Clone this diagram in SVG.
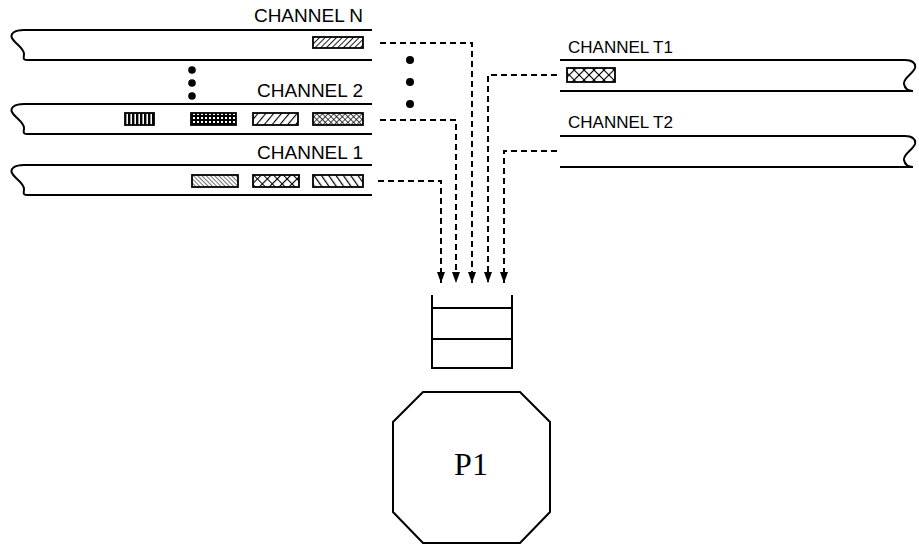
<svg xmlns="http://www.w3.org/2000/svg" width="919" height="545" viewBox="0 0 919 545">
<style>
.band{fill:none;stroke:#000;stroke-width:2}
.lbl{font-family:"Liberation Sans",Arial,sans-serif;font-size:19px;fill:#000}
.lblt{font-family:"Liberation Sans",Arial,sans-serif;font-size:17px;fill:#000}
.dash{fill:none;stroke:#000;stroke-width:2;stroke-dasharray:6 4}
.box{stroke:#000;stroke-width:1.8}
.dot{fill:#000}
.edge{fill:none;stroke:#000;stroke-width:2}
</style>
<defs>
<marker id="ah" markerWidth="11" markerHeight="8" refX="11" refY="4" orient="auto" markerUnits="userSpaceOnUse" viewBox="0 0 11 8">
<path d="M0,0 L11,4 L0,8 Z" fill="#000"/>
</marker>
<pattern id="pDiag" width="4" height="4" patternUnits="userSpaceOnUse" patternTransform="rotate(45)"><rect width="4" height="4" fill="#fff"/><line x1="0" y1="0" x2="0" y2="4" stroke="#000" stroke-width="1.8"/></pattern>
<pattern id="pDiagW" width="6" height="6" patternUnits="userSpaceOnUse" patternTransform="rotate(40)"><rect width="6" height="6" fill="#fff"/><line x1="0" y1="0" x2="0" y2="6" stroke="#000" stroke-width="2.2"/></pattern>
<pattern id="pBack" width="3" height="3" patternUnits="userSpaceOnUse" patternTransform="rotate(-45)"><rect width="3" height="3" fill="#fff"/><line x1="0" y1="0" x2="0" y2="3" stroke="#000" stroke-width="1.1"/></pattern>
<pattern id="pBackW" width="6" height="6" patternUnits="userSpaceOnUse" patternTransform="rotate(-35)"><rect width="6" height="6" fill="#fff"/><line x1="0" y1="0" x2="0" y2="6" stroke="#000" stroke-width="2.4"/></pattern>
<pattern id="pVert" width="4" height="4" patternUnits="userSpaceOnUse"><rect width="4" height="4" fill="#fff"/><rect x="0" y="0" width="2.4" height="4" fill="#000"/></pattern>
<pattern id="pGrid" width="4" height="4" patternUnits="userSpaceOnUse"><rect width="4" height="4" fill="#000"/><rect x="1" y="1" width="2" height="2" fill="#fff"/></pattern>
<pattern id="pCross" width="4" height="4" patternUnits="userSpaceOnUse" patternTransform="rotate(45)"><rect width="4" height="4" fill="#fff"/><path d="M0,0 V4 M0,0 H4" stroke="#000" stroke-width="1.4"/></pattern>
<pattern id="pWeave" width="7" height="7" patternUnits="userSpaceOnUse" patternTransform="rotate(45)"><rect width="7" height="7" fill="#fff"/><path d="M0,0 V7 M0,0 H7" stroke="#000" stroke-width="2.2"/></pattern>
</defs>

<g id="channel-n">
<path class="band" d="M372 30 H24 C14 30 10 34 12 38 C15 44 24 48 24 54 C24 58 22 60 28 60 H372"/>
<text class="lbl" x="363" y="22" text-anchor="end">CHANNEL N</text>
<rect class="box" x="313" y="37" width="50" height="11" fill="url(#pDiag)"/>
</g>

<g id="dots-left">
<circle class="dot" cx="192" cy="70" r="3.8"/>
<circle class="dot" cx="192" cy="83" r="3.8"/>
<circle class="dot" cx="192" cy="96" r="3.8"/>
</g>

<g id="channel-2">
<path class="band" d="M372 104 H24 C14 104 10 108 12 112 C15 118 24 122 24 128 C24 132 22 134 28 134 H372"/>
<text class="lbl" x="363" y="97" text-anchor="end">CHANNEL 2</text>
<rect class="box" x="125" y="113" width="29" height="12" fill="url(#pVert)"/>
<rect class="box" x="191" y="113" width="45" height="12" fill="url(#pGrid)"/>
<rect class="box" x="253" y="113" width="45" height="12" fill="url(#pDiagW)"/>
<rect class="box" x="313" y="113" width="50" height="12" fill="url(#pCross)"/>
</g>

<g id="channel-1">
<path class="band" d="M372 165 H24 C14 165 10 169 12 173 C15 179 24 183 24 189 C24 193 22 195 28 195 H372"/>
<text class="lbl" x="363" y="159" text-anchor="end">CHANNEL 1</text>
<rect class="box" x="192" y="175" width="46" height="12" fill="url(#pBack)"/>
<rect class="box" x="253" y="175" width="46" height="12" fill="url(#pWeave)"/>
<rect class="box" x="313" y="175" width="50" height="12" fill="url(#pBackW)"/>
</g>

<g id="dots-right">
<circle class="dot" cx="410" cy="60" r="4"/>
<circle class="dot" cx="410" cy="82" r="4"/>
<circle class="dot" cx="410" cy="104" r="4"/>
</g>

<g id="channel-t1">
<path class="band" d="M560 60 H905 C912 60 916 63 915 68 C913 74 903 78 904 84 C905 89 909 91 913 91 H560"/>
<text class="lblt" x="568" y="53">CHANNEL T1</text>
<rect class="box" x="567" y="68" width="48" height="14" fill="url(#pWeave)"/>
</g>

<g id="channel-t2">
<path class="band" d="M560 136 H905 C912 136 916 139 915 144 C913 150 903 154 904 160 C905 165 909 167 913 167 H560"/>
<text class="lblt" x="568" y="128">CHANNEL T2</text>
</g>

<g id="connectors">
<path class="dash" d="M380 43 H472 V283" marker-end="url(#ah)"/>
<path class="dash" d="M380 120 H456 V283" marker-end="url(#ah)"/>
<path class="dash" d="M378 181 H441 V283" marker-end="url(#ah)"/>
<path class="dash" d="M557 75 H488 V283" marker-end="url(#ah)"/>
<path class="dash" d="M557 151 H504 V283" marker-end="url(#ah)"/>
</g>

<g id="queue">
<path class="edge" d="M432 295 V368 H512 V295 M432 308 H512 M432 339 H512"/>
</g>

<g id="p1">
<polygon class="edge" points="423,392 520,392 550,422 550,512 520,543 423,543 393,512 393,422"/>
<text x="471" y="475" text-anchor="middle" font-family="Liberation Serif,'Times New Roman',serif" font-size="32">P1</text>
</g>
</svg>
